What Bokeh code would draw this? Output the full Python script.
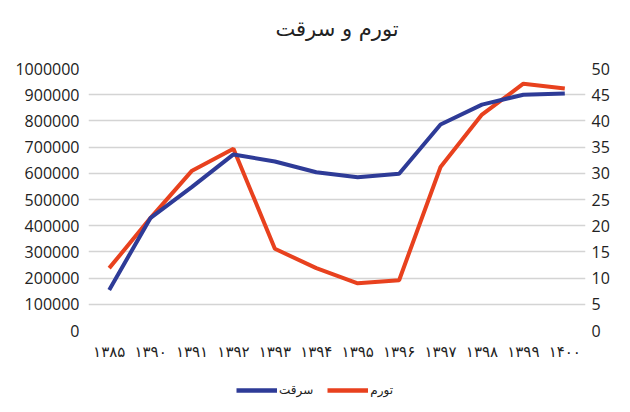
from bokeh.plotting import figure
from bokeh.layouts import column
from bokeh.core.properties import value
from bokeh.models import Range1d, LinearAxis, FactorRange, Legend, LegendItem, FixedTicker, NumeralTickFormatter
from bokeh.embed import file_html
from bokeh.resources import INLINE

years = ["۱۳۸۵", "۱۳۹۰", "۱۳۹۱", "۱۳۹۲", "۱۳۹۳", "۱۳۹۴", "۱۳۹۵", "۱۳۹۶", "۱۳۹۷", "۱۳۹۸", "۱۳۹۹", "۱۴۰۰"]
theft = [155000, 430000, 548000, 672000, 645000, 604000, 585000, 598000, 786000, 862000, 900000, 905000]
inflation = [11.9, 21.5, 30.5, 34.7, 15.6, 11.9, 9.0, 9.6, 31.2, 41.2, 47.1, 46.2]
left_ticks = [0, 100000, 200000, 300000, 400000, 500000, 600000, 700000, 800000, 900000, 1000000]
right_ticks = [0, 5, 10, 15, 20, 25, 30, 35, 40, 45, 50]
title_text = "تورم و سرقت"
theft_name = "سرقت"
inflation_name = "تورم"
blue = "#2e3b97"
red = "#e8411e"

# title strip (its frame is aligned with the chart's frame)
t = figure(width=614, height=50, x_range=Range1d(0, 1), y_range=Range1d(0, 50),
           output_backend="svg", toolbar_location=None, x_axis_location=None,
           y_axis_location=None, min_border=0)
t.outline_line_color = None
t.xgrid.grid_line_color = None
t.ygrid.grid_line_color = None
t.title.text_font_size = "1px"
t.title.standoff = 0
t.text(x=[0.5], y=[22], text=[title_text], text_align="center", text_baseline="middle",
       text_font=value("DejaVu Sans"), text_font_size="21px", text_color="#222222")

p = figure(frame_width=497, frame_height=262, x_range=FactorRange(factors=years),
           y_range=Range1d(0, 1000000), output_backend="svg", toolbar_location=None,
           min_border_left=88, min_border_right=29, min_border_top=18, min_border_bottom=40)
p.extra_y_ranges = {"r": Range1d(0, 50)}
p.outline_line_color = None
p.background_fill_color = "white"
p.border_fill_color = "white"
p.title.text_font_size = "1px"
p.title.standoff = 0

lax = p.yaxis[0]
lax.ticker = FixedTicker(ticks=left_ticks)
lax.formatter = NumeralTickFormatter(format="0")
rax = LinearAxis(y_range_name="r", ticker=FixedTicker(ticks=right_ticks))
p.add_layout(rax, "right")

for ax in [lax, rax, p.xaxis[0]]:
    ax.axis_line_color = None
    ax.major_tick_line_color = None
    ax.minor_tick_line_color = None
    ax.major_tick_out = 0
    ax.major_tick_in = 0
    ax.minor_tick_out = 0
    ax.major_label_text_color = "#222222"
for ax in [lax, rax]:
    ax.major_label_text_font = "Open Sans"
    ax.major_label_text_font_size = "16px"
lax.major_label_standoff = 9
rax.major_label_standoff = 6
p.xaxis.major_label_text_font = "DejaVu Sans"
p.xaxis.major_label_text_font_size = "15px"
p.xaxis.major_label_standoff = 12

p.xgrid.grid_line_color = None
p.ygrid.grid_line_color = "#d4d4d4"
p.ygrid.grid_line_width = 1.5

p.line(years, inflation, y_range_name="r", line_color=red, line_width=4)
p.line(years, theft, line_color=blue, line_width=4)

# legend strip below the chart (its frame is aligned with the chart's frame)
q = figure(width=614, height=30, x_range=Range1d(0, 1), y_range=Range1d(0, 1),
           output_backend="svg", toolbar_location=None, x_axis_location=None,
           y_axis_location=None, min_border=0)
q.outline_line_color = None
q.xgrid.grid_line_color = None
q.ygrid.grid_line_color = None
# legend keys only: kept outside the visible range
k_th = q.line([-5, -4], [-5, -5], line_color=blue, line_width=4.5)
k_inf = q.line([-5, -4], [-5, -5], line_color=red, line_width=4.5)
legend = Legend(items=[LegendItem(label=theft_name, renderers=[k_th]),
                       LegendItem(label=inflation_name, renderers=[k_inf])],
                orientation="horizontal", location=(148, 3),
                label_text_font="DejaVu Sans", label_text_font_size="12px",
                label_text_color="#222222", glyph_width=41, glyph_height=10,
                spacing=14, border_line_color=None, background_fill_alpha=0,
                margin=0, padding=2, label_standoff=2)
q.add_layout(legend, "center")

layout = column(t, p, q, spacing=0)
open("out.html", "w").write(file_html(layout, INLINE))
